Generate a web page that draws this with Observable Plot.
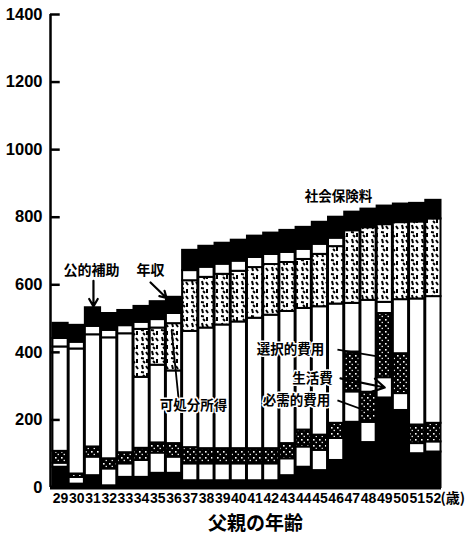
<!DOCTYPE html>
<html><head><meta charset="utf-8">
<script src="https://cdn.jsdelivr.net/npm/d3@7"></script>
<script src="https://cdn.jsdelivr.net/npm/@observablehq/plot@0.6"></script>
<style>
body{margin:0;background:#fff;}
#chart svg{display:block;}
</style></head><body><div id="chart"></div>
<script>
// Father's age (categories)
const ages = [29,30,31,32,33,34,35,36,37,38,39,40,41,42,43,44,45,46,47,48,49,50,51,52];
// Stacked segments, bottom to top (万円)
const necessary   = [60,10,35,5,30,30,42,42,20,20,20,20,20,20,35,60,50,80,193,133,265,228,100,105]; // 必需的費用 (black)
const lowerWhite  = [12,20,55,50,40,50,60,48,50,50,50,50,50,50,50,60,60,65,90,60,60,50,30,30];
const living      = [35,10,30,30,33,36,30,40,48,45,45,45,45,45,45,50,45,45,118,89,190,118,55,55];     // 生活費 (dotted)
const disposable  = [309,370,332,358,352,210,230,215,344,357,366,375,386,395,391,360,380,353,144,272,33,160,373,375]; // 可処分所得
const optional    = [0,0,0,0,0,142,110,140,150,150,150,150,150,150,145,145,155,170,215,215,230,228,228,230]; // 選択的費用 (hatched)
const taxWhite    = [25,20,25,22,24,21,25,30,30,30,30,30,30,30,30,30,30,25,0,0,0,0,0,0];
const social      = [45,50,55,50,45,47,53,48,60,62,62,62,63,63,65,65,65,62,55,55,55,55,55,55]; // 社会保険料 (black)

const layerKeys = ["必需的費用","白","生活費","可処分所得","選択的費用","税","社会保険料"];
const layerArrays = [necessary, lowerWhite, living, disposable, optional, taxWhite, social];
const layerFills = ["#000","#fff","url(#dots)","#fff","url(#hatch)","#fff","#000"];

const yTicks = [0,200,400,600,800,1000,1200,1400];

// annotation labels
const annoText = ["公的補助","年収","社会保険料","可処分所得","選択的費用","生活費","必需的費用"];
const annoX    = [30.91, 34.55, 46.14, 37.2, 43.18, 44.54, 43.55];
const annoY    = [642, 642, 861, 243, 408, 323, 258];
const annoSize = [14, 14, 13.5, 13.5, 13.5, 13.5, 13.5];
// pointers: [x1,y1,x2,y2,head]
const pointers = [
  [31.03, 612, 31.03, 536, true],
  [34.55, 607, 35.54, 561, true],
  [46.27, 323, 49.0, 296, true],
  [46.08, 408, 48.55, 388, false],
  [46.08, 258, 48.3, 219, false],
  [36.28, 263, 35.85, 465, false]
];

// build stacked table
const rows = ages.map((a,i)=>{ const r={age:a}; layerKeys.forEach((k,j)=> r[k]=layerArrays[j][i]); return r; });
const series = d3.stack().keys(layerKeys)(rows);
const segments = [];
series.forEach(s => s.forEach(p => { if (p[1] > p[0]) segments.push({age:p.data.age, layer:s.key, y1:p[0], y2:p[1]}); }));

const X0 = 28.38, X1 = 52.5;
const jp = "'Noto Sans CJK JP', sans-serif";
const plot = Plot.plot({
  width: 467, height: 538,
  marginTop: 14, marginBottom: 51, marginLeft: 50, marginRight: 26,
  x: {domain: [X0, X1], axis: null},
  y: {domain: [0, 1400], axis: null},
  color: {domain: layerKeys, range: layerFills},
  style: {background: "white", fontFamily: "'Liberation Sans', Arial, sans-serif", color: "black"},
  marks: [
    Plot.rect(segments, {x1: d => d.age - 0.47, x2: d => d.age + 0.47, y1: "y1", y2: "y2", fill: "layer", stroke: "black", strokeWidth: 2}),
    Plot.ruleY([0], {x1: X0, x2: X1, stroke: "black", strokeWidth: 4}),
    Plot.ruleX([X0], {y1: 0, y2: 1400, stroke: "black", strokeWidth: 2.5}),
    Plot.ruleY(yTicks, {x1: X0, x2: X0 + 0.6, stroke: "black", strokeWidth: 2.5}),
    Plot.text(yTicks, {x: X0, y: d => d, text: d => String(d), dx: -8, textAnchor: "end", fontSize: 16.5, fontWeight: "bold", fill: "black"}),
    Plot.text(ages, {x: d => d, y: 0, dy: 11, fontSize: 14, fontWeight: "bold", fill: "black", text: d => String(d)}),
    Plot.text(["(歳)"], {x: X1, y: 0, dy: 11, dx: -1, textAnchor: "start", fontSize: 14, fontWeight: "bold", fontFamily: jp, fill: "black"}),
    Plot.text(["父親の年齢"], {x: 41.02, y: 0, dy: 36, fontSize: 19, fontWeight: "bold", fontFamily: jp, fill: "black"}),
    Plot.link(pointers.filter(p => !p[4]), {x1: d => d[0], y1: d => d[1], x2: d => d[2], y2: d => d[3], stroke: "black", strokeWidth: 1.8}),
    Plot.arrow(pointers.filter(p => p[4]), {x1: d => d[0], y1: d => d[1], x2: d => d[2], y2: d => d[3], stroke: "black", strokeWidth: 2.2, headLength: 9}),
    Plot.text(annoText, {x: (d,i) => annoX[i], y: (d,i) => annoY[i], fontSize: (d,i) => annoSize[i], text: d => d, fontWeight: "bold", fontFamily: jp, fill: "black", stroke: "white", strokeWidth: 3})
  ]
});

// patterns
const defs = d3.select(plot).insert("defs", ":first-child");
const h = defs.append("pattern").attr("id","hatch").attr("patternUnits","userSpaceOnUse").attr("width",10).attr("height",14);
h.append("rect").attr("width",10).attr("height",14).attr("fill","#fff");
h.append("path").attr("d","M2,1 L3,5 M6,2 L8,5 M1,8 L4,8.5 M7,9 L7,13 M3,11 L5,13").attr("stroke","#000").attr("stroke-width",2).attr("fill","none");
const dt = defs.append("pattern").attr("id","dots").attr("patternUnits","userSpaceOnUse").attr("width",6).attr("height",6);
dt.append("rect").attr("width",6).attr("height",6).attr("fill","#000");
dt.append("rect").attr("x",1).attr("y",1).attr("width",1.6).attr("height",1.6).attr("fill","#fff");
dt.append("rect").attr("x",3.6).attr("y",3.8).attr("width",1.3).attr("height",1.3).attr("fill","#fff");

document.getElementById("chart").appendChild(plot);
</script></body></html>
